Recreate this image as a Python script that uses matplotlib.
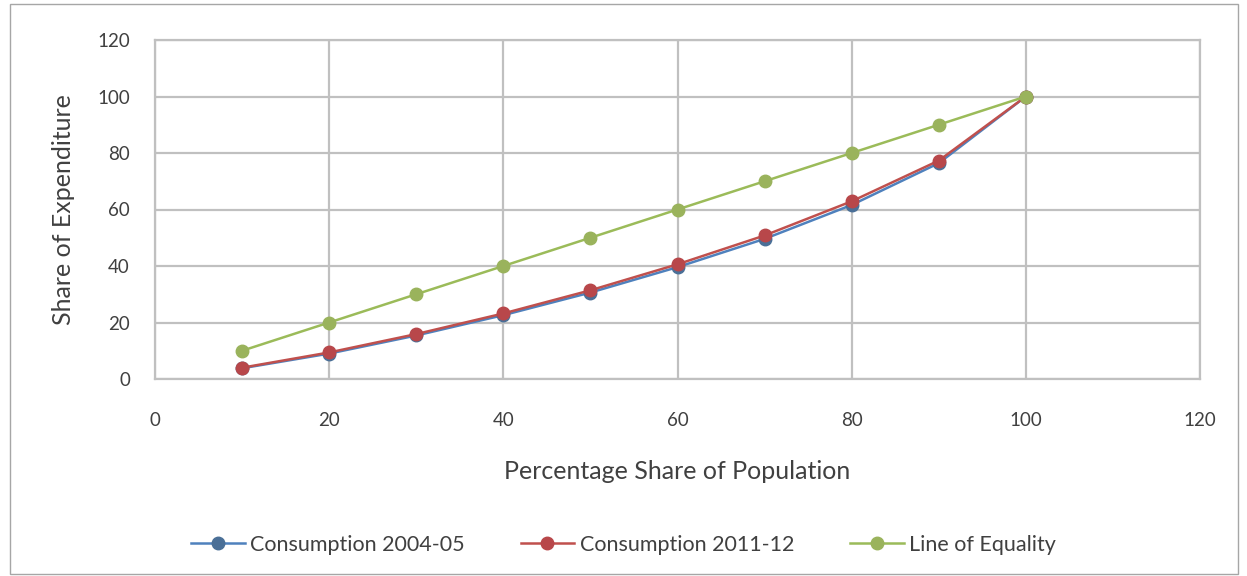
import matplotlib
matplotlib.use("Agg")
import matplotlib.pyplot as plt
from matplotlib.patches import Rectangle

population = [10, 20, 30, 40, 50, 60, 70, 80, 90, 100]
consumption_2004_05 = [3.8, 9.0, 15.4, 22.6, 30.6, 39.6, 49.6, 61.6, 76.4, 100]
consumption_2011_12 = [4.0, 9.4, 15.9, 23.2, 31.4, 40.6, 50.8, 62.9, 77.3, 100]
equality = [10, 20, 30, 40, 50, 60, 70, 80, 90, 100]

x_ticks = [0, 20, 40, 60, 80, 100, 120]
y_ticks = [0, 20, 40, 60, 80, 100, 120]

plt.rcParams['font.family'] = ['Lato', 'DejaVu Sans']

fig = plt.figure(figsize=(12.47, 5.76), dpi=100)
ax = fig.add_axes([155 / 1247, 1 - 379 / 576, (1200 - 155) / 1247, (379 - 40) / 576])

fig.patches.append(Rectangle((10 / 1247, 2 / 576), 1228 / 1247, 570 / 576,
                             transform=fig.transFigure, fill=False,
                             edgecolor='#a6a6a6', linewidth=1.0))

series = [
    (consumption_2004_05, '#4F81BD', '#4a6f97', 'Consumption 2004-05'),
    (consumption_2011_12, '#C0504D', '#b8474a', 'Consumption 2011-12'),
    (equality, '#9BBB59', '#9ab35c', 'Line of Equality'),
]
for vals, lc, mc, lab in series:
    ax.plot(population, vals, color=lc, linewidth=1.8, marker='o', markersize=9,
            markerfacecolor=mc, markeredgecolor=mc, label=lab, zorder=3)

ax.set_xlim(0, 120)
ax.set_ylim(0, 120)
ax.set_xticks(x_ticks)
ax.set_yticks(y_ticks)
ax.grid(True, color='#c0c0c0', linewidth=1.6)
ax.set_axisbelow(True)
for s in ax.spines.values():
    s.set_color('#c0c0c0')
    s.set_linewidth(1.6)
ax.tick_params(length=0, labelsize=13.5, colors='#404040')
ax.tick_params(axis='x', pad=24)
ax.tick_params(axis='y', pad=18)

ax.set_xlabel('Percentage Share of Population', fontsize=18, color='#404040', labelpad=22)
ax.set_ylabel('Share of Expenditure', fontsize=18, color='#404040', labelpad=16)

fig.legend(loc='center', bbox_to_anchor=(0.5, 1 - 545 / 576), ncol=3, frameon=False,
           fontsize=15.5, handlelength=2.5, columnspacing=2.6, labelcolor='#404040',
           handletextpad=0.25)

fig.savefig('out.png', dpi=100)
